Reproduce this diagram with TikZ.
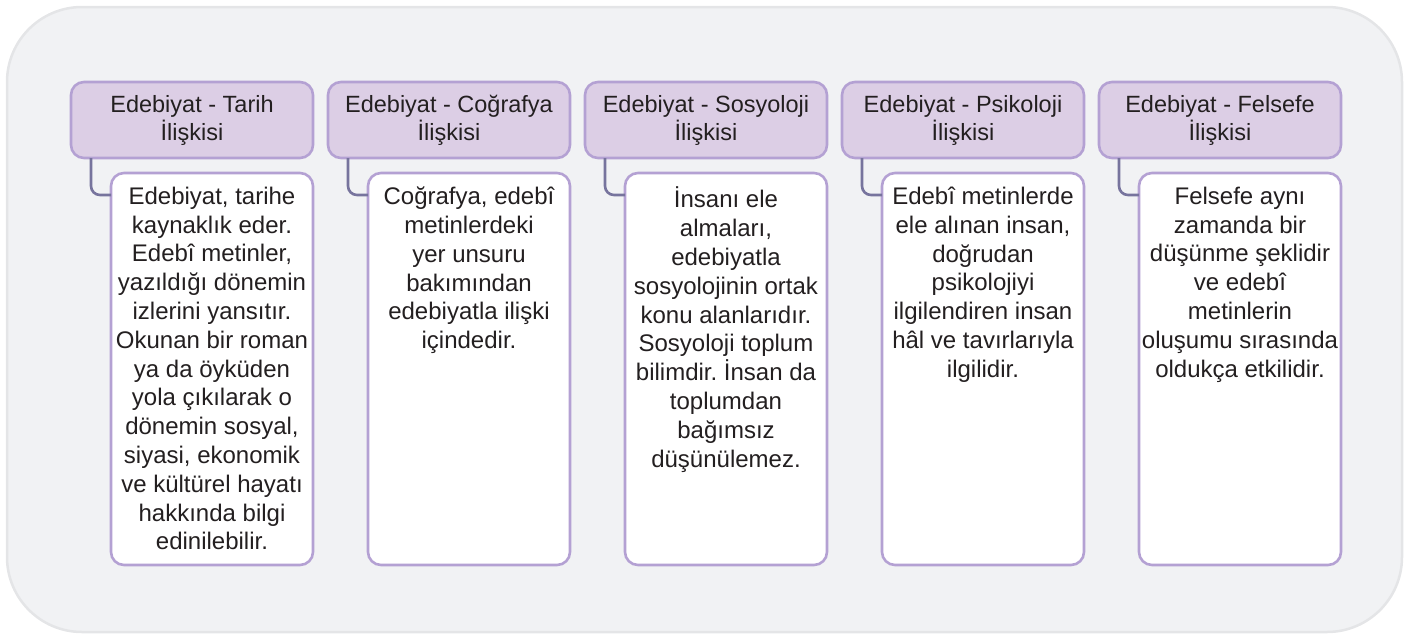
\documentclass[tikz,border=0pt]{standalone}
\usepackage{fontspec}
\setmainfont{Liberation Sans}
\usetikzlibrary{positioning}
\frenchspacing

\definecolor{panelfill}{HTML}{F1F2F4}
\definecolor{paneledge}{HTML}{E4E5E7}
\definecolor{headfill}{HTML}{DCCEE5}
\definecolor{lilac}{HTML}{B4A1D3}
\definecolor{linkcol}{HTML}{77749D}
\definecolor{inkcol}{HTML}{231F20}

\tikzset{
  panel/.style={draw=paneledge, fill=panelfill, line width=2.5pt, rounded corners=75pt},
  head/.style={draw=lilac, fill=headfill, line width=2.6pt, rounded corners=13pt,
    minimum width=242pt, minimum height=76pt, inner sep=0pt, outer sep=0pt,
    align=center, text=inkcol, font=\fontsize{23.5}{28}\selectfont},
  info/.style={draw=lilac, fill=white, line width=2.6pt, rounded corners=13pt,
    minimum width=202pt, minimum height=392pt, inner sep=0pt, outer sep=0pt,
    text=inkcol, font=\fontsize{24}{28.8}\selectfont},
  link/.style={draw=linkcol, line width=2.6pt, rounded corners=9pt},
}
\newcommand{\infotext}[1]{\begin{minipage}[t][392pt][t]{202pt}\centering
  \vspace*{14pt}#1\end{minipage}}

\begin{document}
\begin{tikzpicture}[x=1pt,y=-1pt]
  \useasboundingbox (0,0) rectangle (1417,635);
  \draw[panel] (7,7) rectangle (1402,632);

  % headers
  \node[head] (h1) at (192,120) {Edebiyat - Tarih\\İlişkisi};
  \node[head, right=15pt of h1] (h2) {Edebiyat - Coğrafya\\İlişkisi};
  \node[head, right=15pt of h2] (h3) {Edebiyat - Sosyoloji\\İlişkisi};
  \node[head, right=15pt of h3] (h4) {Edebiyat - Psikoloji\\İlişkisi};
  \node[head, right=15pt of h4] (h5) {Edebiyat - Felsefe\\İlişkisi};

  % details
  \node[info, below=15pt of h1.south east, anchor=north east] (d1) {\infotext{%
    Edebiyat, tarihe\\kaynaklık eder.\\Edebî metinler,\\yazıldığı dönemin\\
    izlerini yansıtır.\\Okunan bir roman\\ya da öyküden\\yola çıkılarak o\\
    dönemin sosyal,\\siyasi, ekonomik\\ve kültürel hayatı\\hakkında bilgi\\
    edinilebilir.}};
  \node[info, below=15pt of h2.south east, anchor=north east] (d2) {\infotext{%
    Coğrafya, edebî\\metinlerdeki\\yer unsuru\\bakımından\\edebiyatla ilişki\\
    içindedir.}};
  \node[info, below=15pt of h3.south east, anchor=north east] (d3) {\infotext{%
    İnsanı ele\\almaları,\\edebiyatla\\sosyolojinin ortak\\konu alanlarıdır.\\
    Sosyoloji toplum\\bilimdir. İnsan da\\toplumdan\\bağımsız\\düşünülemez.}};
  \node[info, below=15pt of h4.south east, anchor=north east] (d4) {\infotext{%
    Edebî metinlerde\\ele alınan insan,\\doğrudan\\psikolojiyi\\
    ilgilendiren insan\\hâl ve tavırlarıyla\\ilgilidir.}};
  \node[info, below=15pt of h5.south east, anchor=north east] (d5) {\infotext{%
    Felsefe aynı\\zamanda bir\\düşünme şeklidir\\ve edebî\\metinlerin\\
    oluşumu sırasında\\oldukça etkilidir.}};

  % links
  \draw[link] ([xshift=20pt]h1.south west) |- ([yshift=-22pt]d1.north west);
  \draw[link] ([xshift=20pt]h2.south west) |- ([yshift=-22pt]d2.north west);
  \draw[link] ([xshift=20pt]h3.south west) |- ([yshift=-22pt]d3.north west);
  \draw[link] ([xshift=20pt]h4.south west) |- ([yshift=-22pt]d4.north west);
  \draw[link] ([xshift=20pt]h5.south west) |- ([yshift=-22pt]d5.north west);
\end{tikzpicture}
\end{document}
